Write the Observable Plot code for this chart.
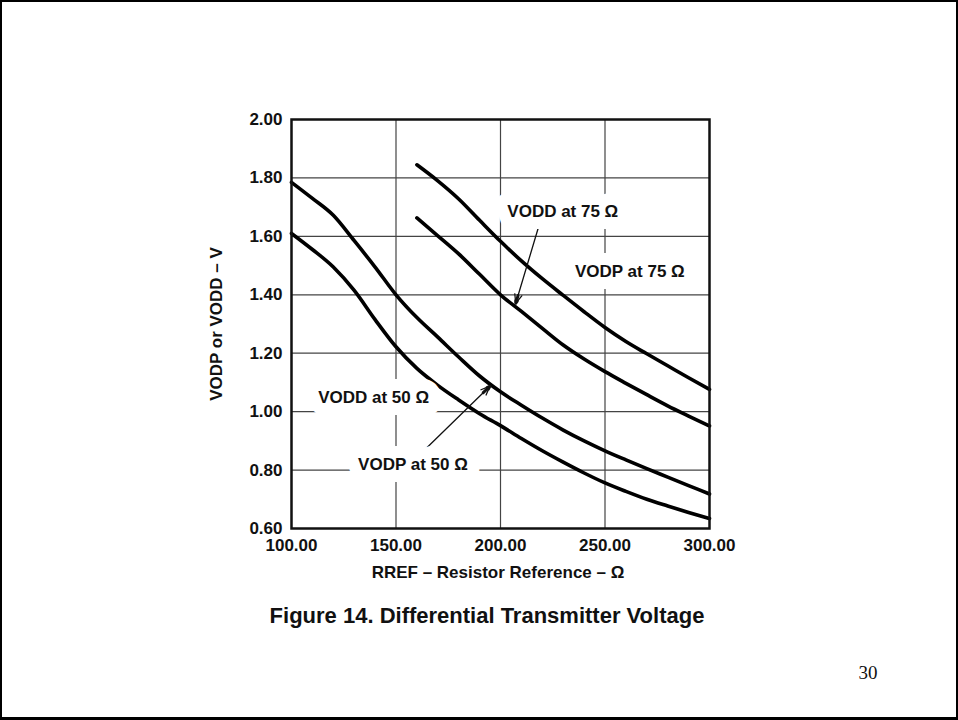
<!DOCTYPE html>
<html>
<head>
<meta charset="utf-8">
<script src="https://cdn.jsdelivr.net/npm/d3@7"></script>
<script src="https://cdn.jsdelivr.net/npm/@observablehq/plot@0.6"></script>
<style>
  html, body { margin: 0; padding: 0; background: #fff; }
  #page { position: relative; width: 958px; height: 720px; overflow: hidden; background: #fff;
          font-family: "Liberation Sans", Arial, Helvetica, sans-serif; color: #111; }
  #chart { position: absolute; left: 0; top: 0; }
  .lbl { position: absolute; white-space: nowrap; font-weight: bold; transform: translate(-50%, -50%); }
  #border { position: absolute; left: 0; top: 0; width: 958px; height: 720px; box-sizing: border-box;
            border: 2px solid #000; border-bottom-width: 3px; pointer-events: none; }
</style>
</head>
<body>
<div id="page">
  <div id="chart"></div>
  <div class="lbl" id="ylab" style="left:217px; top:324px; font-size:17px; transform: translate(-50%,-50%) rotate(-90deg);">VODP or VODD – V</div>
  <div class="lbl" id="xlab" style="left:498px; top:573px; font-size:17px;">RREF – Resistor Reference – Ω</div>
  <div class="lbl" id="title" style="left:487px; top:616px; font-size:22px;">Figure 14. Differential Transmitter Voltage</div>
  <div class="lbl" id="pagenum" style="left:868px; top:673px; font-size:19px; font-weight:normal; font-family:'Liberation Serif','Times New Roman',serif;">30</div>
  <div id="border"></div>
</div>
<script>
// ---- data ----
const rref50 = [100,110,120,130,140,150,160,170,180,190,200,210,220,230,240,250,260,270,280,290,300];
const vodp50 = [1.785,1.730,1.672,1.585,1.495,1.400,1.322,1.255,1.187,1.122,1.068,1.022,0.978,0.937,0.900,0.866,0.835,0.805,0.776,0.747,0.718];
const vodd50 = [1.610,1.555,1.495,1.415,1.315,1.222,1.148,1.090,1.040,0.993,0.952,0.908,0.866,0.827,0.790,0.756,0.727,0.700,0.677,0.655,0.634];

const rref75 = [160,170,180,190,200,210,220,230,240,250,260,270,280,290,300];
const vodp75 = [1.845,1.790,1.728,1.655,1.583,1.516,1.455,1.398,1.342,1.288,1.240,1.198,1.157,1.116,1.076];
const vodd75 = [1.663,1.602,1.540,1.470,1.400,1.343,1.285,1.228,1.180,1.137,1.097,1.058,1.020,0.985,0.951];

const xTicks = [100,150,200,250,300];
const yTicks = [0.6,0.8,1.0,1.2,1.4,1.6,1.8,2.0];
const xGrid = [150,200,250];
const yGrid = [0.8,1.0,1.2,1.4,1.6,1.8];

const labelText = ["VODD at 75 Ω","VODP at 75 Ω","VODD at 50 Ω","VODP at 50 Ω"];
const labelX    = [229.8, 261.9, 139.3, 158.1];
const labelY    = [1.686, 1.478, 1.047, 0.820];

const arrowX1 = [218.2, 163.4];
const arrowY1 = [1.632, 0.867];
const arrowX2 = [207.3, 194.9];
const arrowY2 = [1.371, 1.087];

// ---- build tables ----
const toRows = (xs, ys, name) => xs.map((x, i) => ({x, y: ys[i], series: name}));
const series = [
  ...toRows(rref50, vodp50, "VODP at 50 Ω"),
  ...toRows(rref50, vodd50, "VODD at 50 Ω"),
  ...toRows(rref75, vodp75, "VODP at 75 Ω"),
  ...toRows(rref75, vodd75, "VODD at 75 Ω")
];
const labels = labelText.map((t, i) => ({text: t, x: labelX[i], y: labelY[i]}));
const arrows = arrowX1.map((x1, i) => ({x1, y1: arrowY1[i], x2: arrowX2[i], y2: arrowY2[i]}));
// short segment near each tip, drawn thick to give a solid-looking head
const heads = arrows.map(a => ({
  x1: a.x2 + (a.x1 - a.x2) * 0.1, y1: a.y2 + (a.y1 - a.y2) * 0.1,
  x2: a.x2, y2: a.y2
}));

const chart = Plot.plot({
  width: 958,
  height: 590,
  marginLeft: 291,
  marginRight: 249,
  marginTop: 119,
  marginBottom: 62,
  style: {fontFamily: "'Liberation Sans', Arial, Helvetica, sans-serif", fontSize: "17px", fontWeight: "bold", color: "#111", background: "transparent"},
  x: {domain: [100, 300], ticks: xTicks, tickFormat: d3.format(".2f"), tickSize: 0, tickPadding: 10, label: null},
  y: {domain: [0.6, 2.0], ticks: yTicks, tickFormat: d3.format(".2f"), tickSize: 0, tickPadding: 9, label: null},
  marks: [
    Plot.ruleX(xGrid, {stroke: "#444", strokeWidth: 1.2}),
    Plot.ruleY(yGrid, {stroke: "#444", strokeWidth: 1.2}),
    Plot.line(series, {x: "x", y: "y", z: "series", stroke: "#000", strokeWidth: 3.6, curve: "monotone-x"}),
    Plot.arrow(arrows, {x1: "x1", y1: "y1", x2: "x2", y2: "y2", stroke: "#111", strokeWidth: 1.3, headLength: 11, headAngle: 45}),
    Plot.arrow(heads, {x1: "x1", y1: "y1", x2: "x2", y2: "y2", stroke: "#111", strokeWidth: 3, headLength: 8, headAngle: 35}),
    Plot.text(labels, {x: "x", y: "y", text: "text", fill: "#111", stroke: "white", strokeWidth: 24, strokeLinejoin: "round", paintOrder: "stroke", fontSize: 17, fontWeight: "bold"}),
    Plot.frame({stroke: "#111", strokeWidth: 2.5})
  ]
});
document.getElementById("chart").appendChild(chart);
</script>
</body>
</html>
